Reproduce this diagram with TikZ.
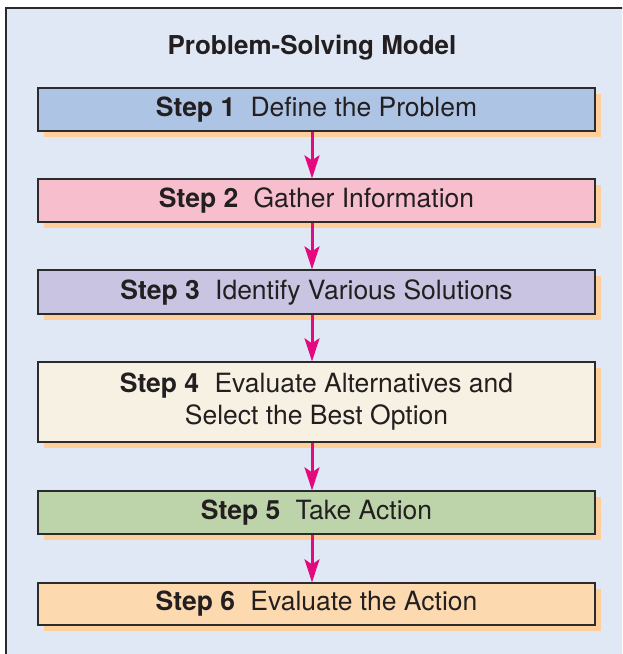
\documentclass[tikz,border=0pt]{standalone}
\usepackage{fontspec}
\setmainfont{TeX Gyre Heros}
\usetikzlibrary{arrows.meta,shadows}
\definecolor{bgc}{HTML}{E1E8F5}
\definecolor{framec}{HTML}{2A2A2A}
\definecolor{boxline}{HTML}{2B2B2B}
\definecolor{txt}{HTML}{231F20}
\definecolor{shadowc}{HTML}{FECF9B}
\definecolor{arrowc}{HTML}{E5097F}
\definecolor{c1}{HTML}{ADC4E4}
\definecolor{c2}{HTML}{F7BFCE}
\definecolor{c3}{HTML}{C8C4E1}
\definecolor{c4}{HTML}{F6F1E2}
\definecolor{c5}{HTML}{BDD3AA}
\definecolor{c6}{HTML}{FDD9AF}
\begin{document}
\begin{tikzpicture}[x=1pt,y=-1pt,
  stepbox/.style={draw=boxline, line width=1.3pt, minimum width=557pt,
    minimum height=43pt, inner sep=0pt, text=txt,
    font=\fontsize{26.5}{32}\selectfont, align=center,
    drop shadow={shadow xshift=6pt, shadow yshift=-6pt, fill=shadowc, opacity=1, draw=none}},
  flow/.style={draw=arrowc, line width=3pt, -{Stealth[length=23pt,width=15pt,inset=5pt]}}]
\useasboundingbox (0,0) rectangle (622,654);
\clip (0,0) rectangle (622,654);
\draw[fill=bgc, draw=framec, line width=2pt] (6,8) rectangle (650,680);
\node[text=txt, font=\fontsize{26}{30}\selectfont\bfseries] (title) at (312,48) {Problem-Solving Model};
\coordinate (ax) at (312,0);
\node[stepbox, fill=c1] (b1) at (316.5,109.5) {\textbf{Step 1}\hspace{0.3em} Define the Problem};
\node[stepbox, fill=c2] (b2) at (316.5,200.5) {\textbf{Step 2}\hspace{0.3em} Gather Information};
\node[stepbox, fill=c3, minimum height=44pt] (b3) at (316.5,292) {\textbf{Step 3}\hspace{0.3em} Identify Various Solutions};
\node[stepbox, fill=c4, minimum height=80pt] (b4) at (316.5,402) {\textbf{Step 4}\hspace{0.3em} Evaluate Alternatives and\\Select the Best Option};
\node[stepbox, fill=c5] (b5) at (316.5,512.5) {\textbf{Step 5}\hspace{0.3em} Take Action};
\node[stepbox, fill=c6, minimum height=42pt] (b6) at (316.5,604) {\textbf{Step 6}\hspace{0.3em} Evaluate the Action};
\draw[flow] (b1.south -| ax) -- (b2.north -| ax);
\draw[flow] (b2.south -| ax) -- (b3.north -| ax);
\draw[flow] (b3.south -| ax) -- (b4.north -| ax);
\draw[flow] (b4.south -| ax) -- (b5.north -| ax);
\draw[flow] (b5.south -| ax) -- (b6.north -| ax);
\end{tikzpicture}
\end{document}
